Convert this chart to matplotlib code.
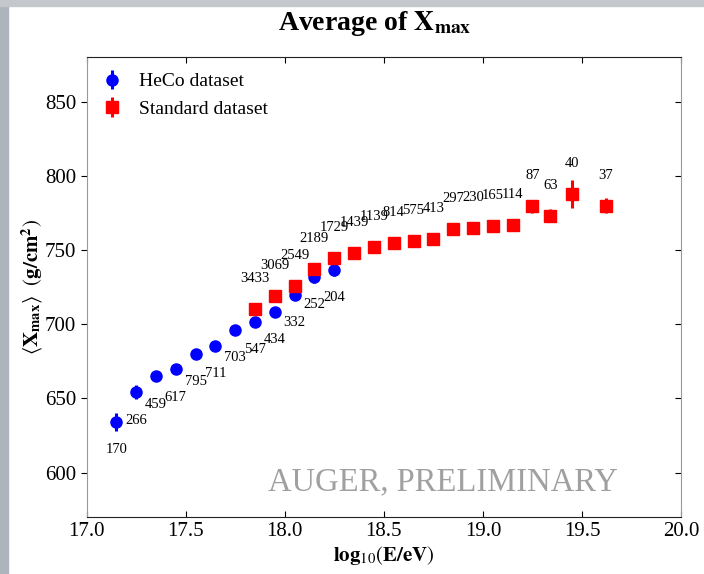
import matplotlib
matplotlib.use("Agg")
import matplotlib.pyplot as plt
from matplotlib.patches import Rectangle

# HeCo dataset
heco_e = [17.15, 17.25, 17.35, 17.45, 17.55, 17.65, 17.75, 17.85, 17.95, 18.05, 18.15, 18.25]
heco_x = [634.3, 654.0, 664.8, 669.5, 680.1, 685.6, 696.2, 701.8, 708.5, 720.0, 731.9, 736.6]
heco_err = [6.0, 4.7, 2.0, 2.0, 1.5, 1.5, 1.5, 1.5, 2.0, 2.5, 4.0, 3.8]
heco_n = ["170", "266", "459", "617", "795", "711", "703", "547", "434", "332", "252", "204"]

# Standard dataset
std_e = [17.85, 17.95, 18.05, 18.15, 18.25, 18.35, 18.45, 18.55, 18.65, 18.75,
         18.85, 18.95, 19.05, 19.15, 19.25, 19.34, 19.45, 19.62]
std_x = [710.1, 719.3, 725.8, 737.2, 744.4, 748.0, 752.0, 754.5, 756.3, 757.4,
         764.2, 764.8, 766.4, 767.0, 779.4, 773.1, 787.9, 779.8]
std_err = [1.0, 1.0, 1.0, 1.0, 1.0, 1.0, 1.0, 1.0, 1.0, 1.0,
           1.5, 1.5, 2.0, 2.5, 4.7, 4.5, 9.4, 5.0]
std_n = ["3433", "3069", "2549", "2189", "1729", "1439", "1139", "814", "575", "413",
         "297", "230", "165", "114", "87", "63", "40", "37"]

plt.rcParams['font.family'] = ['Liberation Serif', 'DejaVu Serif']
plt.rcParams['mathtext.fontset'] = 'stix'

fig = plt.figure(figsize=(7.04, 5.74), dpi=100)
fig.patches.append(Rectangle((0, 0), 8 / 704, 1, transform=fig.transFigure,
                             color='#aeb4bb', zorder=0))
fig.patches.append(Rectangle((0, 1 - 6 / 574), 1, 6 / 574, transform=fig.transFigure,
                             color='#c4c7cb', zorder=0))

ax = fig.add_axes([0.1231, 0.0993, 0.8442, 0.8009])

h1 = ax.errorbar(heco_e, heco_x, yerr=heco_err, fmt='o', color='blue', ms=8,
                 elinewidth=2.2, capsize=0, label='HeCo dataset', zorder=3)
h2 = ax.errorbar(std_e, std_x, yerr=std_err, fmt='s', color='red', ms=9,
                 elinewidth=2.2, capsize=0, label='Standard dataset', zorder=3)

# event counts: HeCo below the points, Standard above
for e, x, n in zip(heco_e, heco_x, heco_n):
    ax.annotate(n, (e, x), xytext=(0, -20), textcoords='offset points',
                ha='center', va='center', fontsize=10.5)
for e, x, n in zip(std_e, std_x, std_n):
    ax.annotate(n, (e, x), xytext=(0, 22), textcoords='offset points',
                ha='center', va='center', fontsize=10.5)

ax.text(0.5995, 0.076, 'AUGER, PRELIMINARY', transform=ax.transAxes,
        ha='center', va='center', fontsize=23.5, color='#a0a0a0')

ax.set_xlim(17, 20)
ax.set_ylim(570, 880)
ax.set_xticks([17.0, 17.5, 18.0, 18.5, 19.0, 19.5, 20.0])
ax.set_yticks([600, 650, 700, 750, 800, 850])
ax.tick_params(axis='x', direction='in', top=True, length=4, labelsize=15)
ax.tick_params(axis='y', which='both', direction='out', length=4, labelsize=15)
ax.tick_params(axis='y', right=True)
for t in ax.yaxis.get_major_ticks():
    t.tick2line.set_marker(0)  # right ticks point inward (to the left)
for s in ['left', 'right']:
    ax.spines[s].set_color('#999999')
for s in ['top', 'bottom']:
    ax.spines[s].set_color('#222222')

ax.set_title(r'Average of $\mathbf{X}_{\mathbf{max}}$', fontsize=20,
             fontweight='bold', pad=20, x=0.485)
ax.set_xlabel(r'$\mathbf{log}_{10}(\mathbf{E/eV})$', fontsize=15, labelpad=2)
ax.set_ylabel(r'$\langle\mathbf{X}_{\mathbf{max}}\rangle\ \ (\mathbf{g/cm}^{\mathbf{2}})$',
              fontsize=15, labelpad=0)

ax.legend(handles=[h1, h2], loc='upper left', frameon=False, fontsize=14,
          numpoints=1, handlelength=1.0, handletextpad=0.9, labelspacing=0.5,
          borderaxespad=0.4)

fig.savefig('out.png', dpi=100)
